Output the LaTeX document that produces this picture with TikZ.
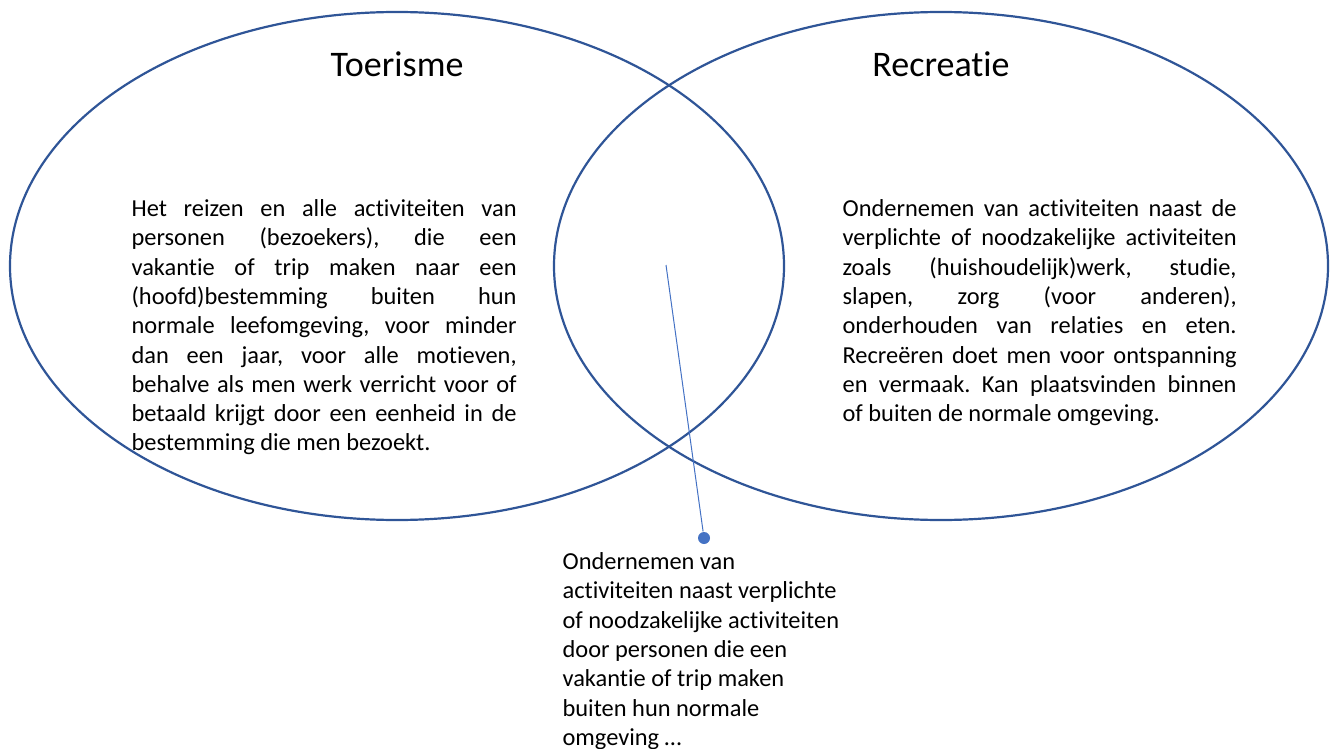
\documentclass[tikz,border=0pt]{standalone}
\usepackage{fontspec}
\setmainfont{Carlito}[Ligatures=NoCommon]
\frenchspacing

\definecolor{vennblue}{HTML}{2F5597}
\definecolor{calloutblue}{HTML}{4472C4}

\begin{document}
\begin{tikzpicture}[x=0.5pt, y=-0.5pt, semithick]

    \tikzstyle{venn}=[draw=vennblue, line width=1.1pt]
    \tikzstyle{title}=[font=\fontsize{18}{22}\selectfont, anchor=base, inner sep=0pt, text=black]
    \tikzstyle{body}=[font=\fontsize{12.2}{14.65}\selectfont, anchor=north west, inner sep=0pt, align=justify, text=black]

    \useasboundingbox (0,0) rectangle (1338,749);

    \draw[venn] (397,266) ellipse [x radius=193.5pt, y radius=127pt];
    \draw[venn] (941,266) ellipse [x radius=193.5pt, y radius=127pt];

    \node[title] (toerisme)  at (397,77) {Toerisme};
    \node[title] (recreatie) at (941,77) {Recreatie};

    \node[body, text width=192.5pt] (deftoer) at (131,199) {Het reizen en alle activiteiten van\linebreak
        personen (bezoekers), die een\linebreak
        vakantie of trip maken naar een\linebreak
        (hoofd)bestemming buiten hun\linebreak
        normale leefomgeving, voor minder\linebreak
        dan een jaar, voor alle motieven,\linebreak
        behalve als men werk verricht voor of\linebreak
        betaald krijgt door een eenheid in de\linebreak
        bestemming die men bezoekt.};

    \node[body, text width=197pt] (defrec) at (842,199) {Ondernemen van activiteiten naast de\linebreak
        verplichte of noodzakelijke activiteiten\linebreak
        zoals (huishoudelijk)werk, studie,\linebreak
        slapen, zorg (voor anderen),\linebreak
        onderhouden van relaties en eten.\linebreak
        Recreëren doet men voor ontspanning\linebreak
        en vermaak. Kan plaatsvinden binnen\linebreak
        of buiten de normale omgeving.};

    \coordinate (pin) at (666,265);
    \node[circle, fill=calloutblue, inner sep=0pt, minimum size=6pt] (dot) at (704,538) {};
    \draw[calloutblue, line width=0.5pt] (pin) -- (dot);

    \node[body, align=left] (overlap) at (562,552) {Ondernemen van\\
        activiteiten naast verplichte\\
        of noodzakelijke activiteiten\\
        door personen die een\\
        vakantie of trip maken\\
        buiten hun normale\\
        omgeving …};
\end{tikzpicture}
\end{document}
